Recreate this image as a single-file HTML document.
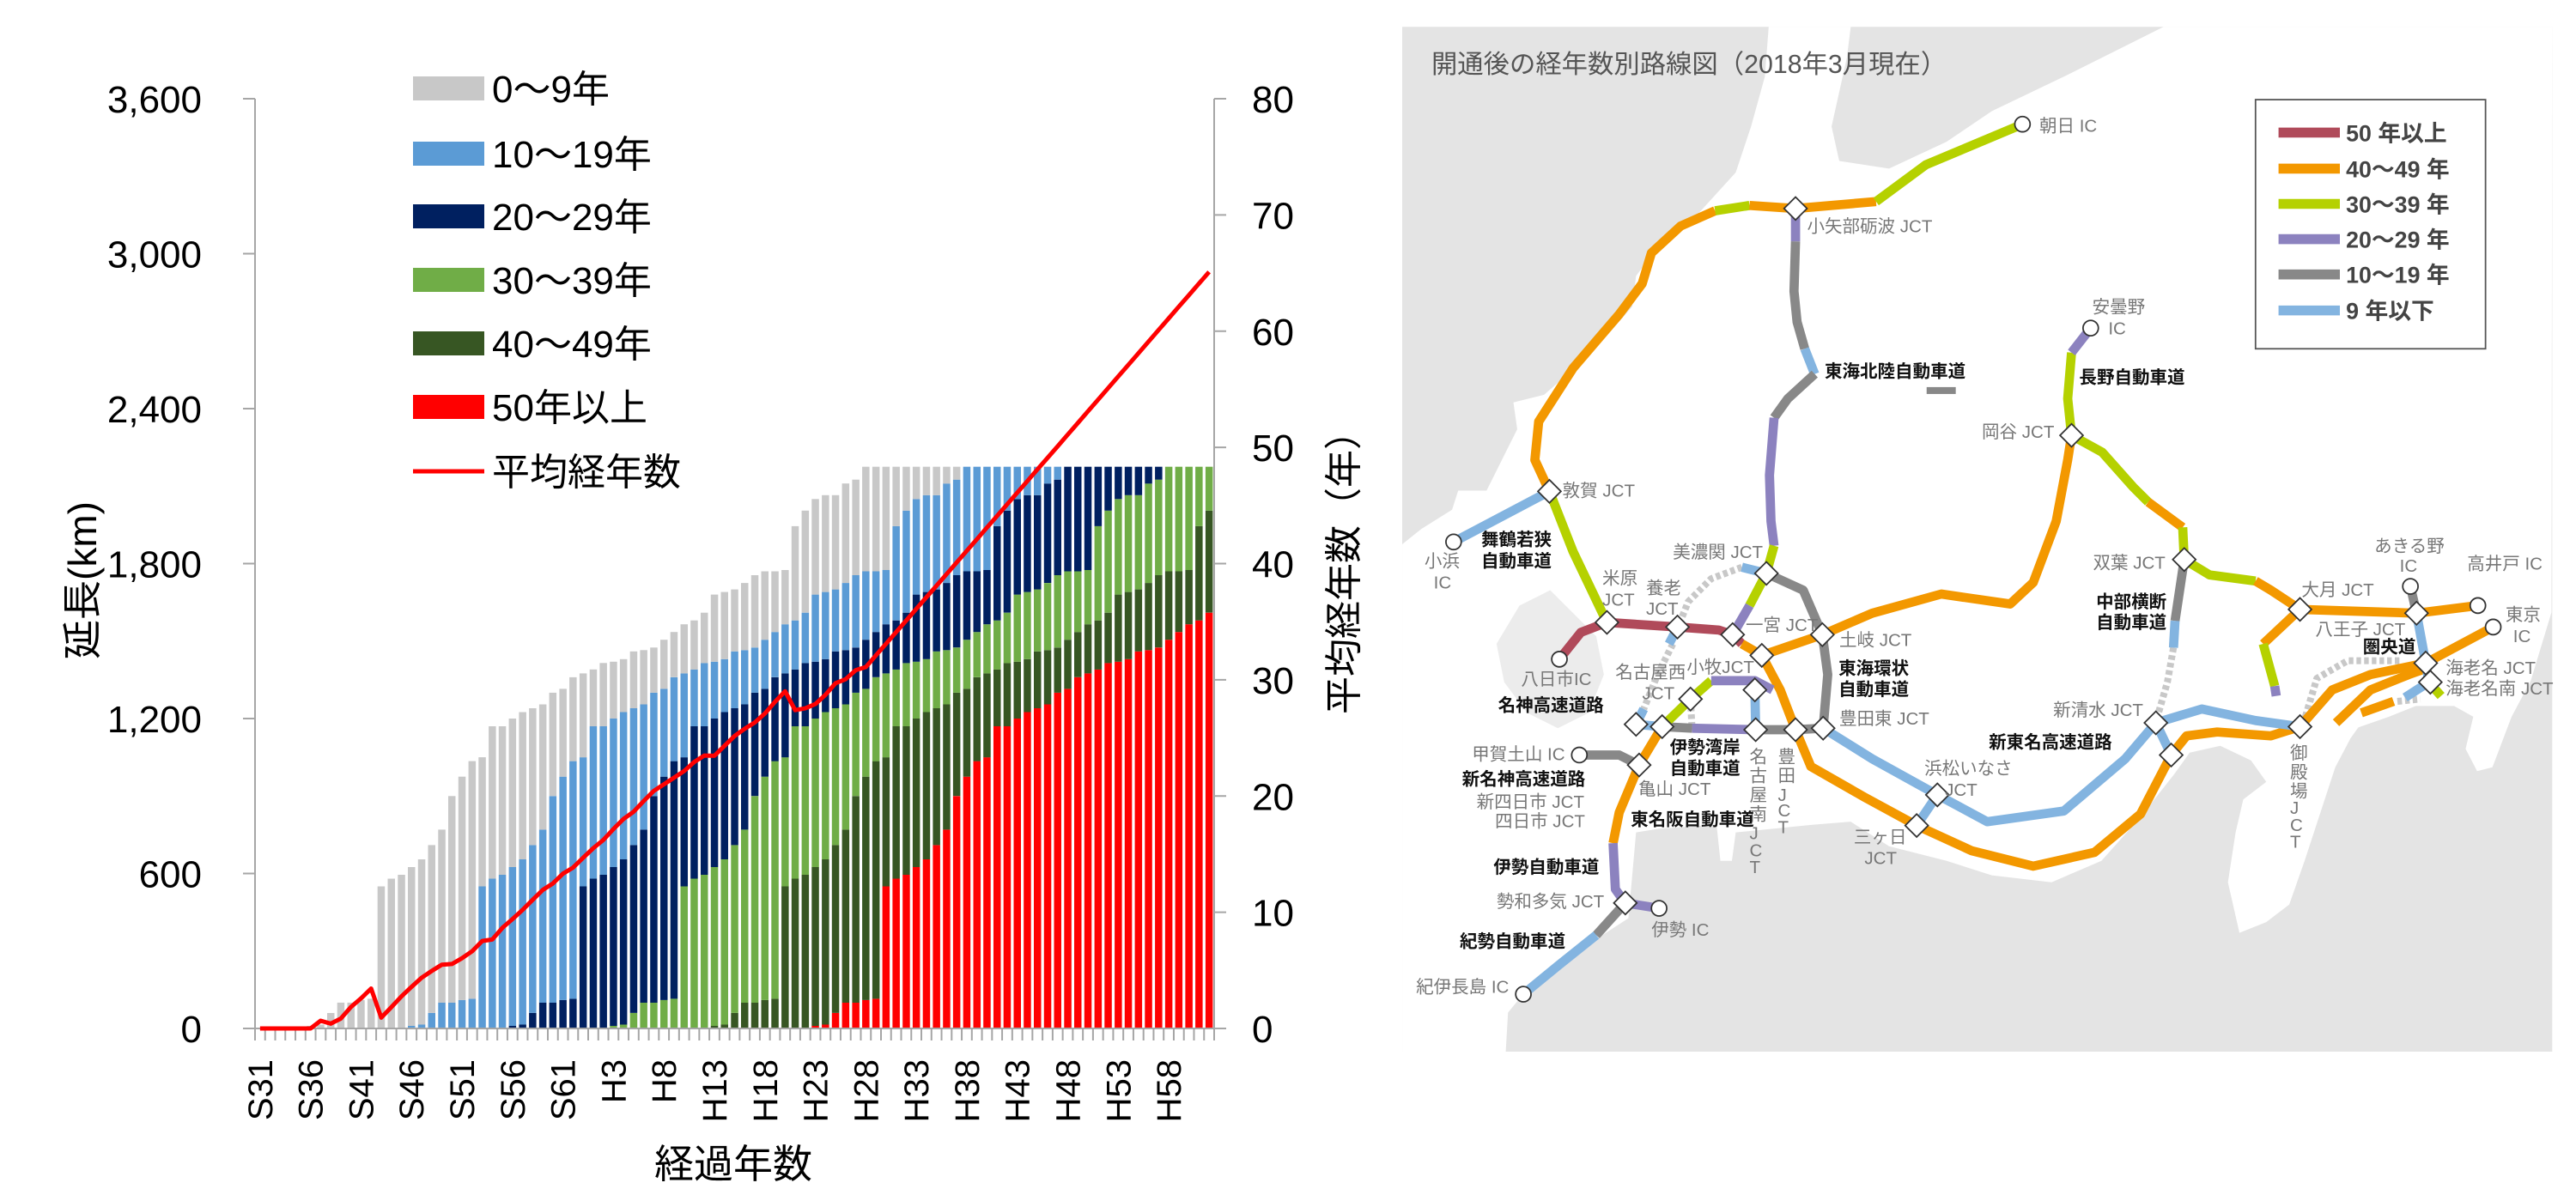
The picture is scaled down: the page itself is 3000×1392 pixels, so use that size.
<!DOCTYPE html>
<html><head><meta charset="utf-8">
<style>
html,body{margin:0;padding:0;background:#fff;}
body{width:3000px;height:1392px;position:relative;overflow:hidden;font-family:"Liberation Sans","Noto Sans CJK JP",sans-serif;}
#chart{position:absolute;left:0;top:0;}
#map{position:absolute;left:1600px;top:0;}
</style></head><body>
<svg id="chart" width="1600" height="1392" viewBox="0 0 1600 1392" font-family="Liberation Sans, Noto Sans CJK JP, sans-serif"></svg>

<svg id="map" width="1400" height="1392" viewBox="0 0 1568 1559" preserveAspectRatio="none" font-family="Liberation Sans, Noto Sans CJK JP, sans-serif">
<rect x="37" y="35" width="1500" height="1337" fill="#e4e4e4"/>
<polygon fill="#fff" points="515,35 622,35 617,75 597,165 607,210 672,220 747,185 806,145 900,100 980,60 1030,35 1537,35 1536,799 1509,888 1484,935 1459,1001 1439,1006 1424,977 1434,935 1409,921 1359,921 1324,935 1284,949 1274,963 1254,1001 1234,1062 1214,1123 1194,1180 1164,1203 1129,1217 1114,1151 1124,1086 1134,1043 1164,1020 1144,992 1104,973 1064,982 1044,1010 999,1067 949,1123 884,1151 806,1142 747,1123 672,1104 622,1072 572,1076 522,1081 472,1086 467,1123 452,1123 447,1076 372,1081 342,1086 337,1142 332,1198 287,1227 242,1260 202,1288 175,1321 172,1372 37,1372 37,710 62,690 102,665 110,640 147,640 167,600 187,560 182,525 222,515 262,480 302,440 337,400 342,360 372,320 422,280 472,225 492,165 510,100"/>
<polygon fill="#ececec" points="190,790 230,770 260,800 290,830 300,880 280,930 240,950 200,930 170,890 160,840"/>
<text x="75" y="95" font-size="34" fill="#555">開通後の経年数別路線図（2018年3月現在）</text>
<g fill="none" stroke-width="12" stroke-linejoin="round" stroke-linecap="butt">
<!-- dotted -->
<g stroke="#c8c8c8" stroke-dasharray="6,4" stroke-width="9">
<polyline points="480,740 440,755 410,785 398,815"/>
<polyline points="390,840 370,880 352,925"/>
<polyline points="413,912 415,950"/>
<polyline points="1043,845 1035,890 1022,935"/>
<polyline points="1215,935 1230,885 1270,862 1340,862"/>
<polyline points="1335,915 1365,912"/>
</g>
<polyline stroke="#83b4e0" points="104,707 229,641"/>
<polyline stroke="#b5d100" points="229,641 260,720 304,812"/>
<polyline stroke="#f39800" points="229,641 210,600 215,550 260,480 320,410 350,370 362,330 400,295 445,275"/>
<polyline stroke="#b5d100" points="445,275 490,268"/>
<polyline stroke="#f39800" points="490,268 550,272 655,263"/>
<polyline stroke="#b5d100" points="655,263 720,215 846,162"/>
<polyline stroke="#8c82bf" points="550,272 550,315"/>
<polyline stroke="#888" points="550,315 548,380 552,420 562,455"/>
<polyline stroke="#83b4e0" points="562,455 575,488"/>
<polyline stroke="#888" points="575,488 540,520 522,545"/>
<polyline stroke="#8c82bf" points="522,545 516,620 518,680 522,712"/>
<polyline stroke="#b5d100" points="522,712 512,748 490,790"/>
<polyline stroke="#8c82bf" points="490,790 468,828"/>
<polyline stroke="#83b4e0" points="480,740 512,748"/>
<polyline stroke="#b04a5a" points="242,860 270,825 304,812 396,818 450,822 468,828 480,840"/>
<polyline stroke="#83b4e0" points="398,815 385,840"/>
<polyline stroke="#f39800" points="480,840 506,855 530,900 550,952 570,1000 640,1040 708,1077 780,1110 860,1130 940,1112 1000,1062 1040,985 1060,960 1100,955 1170,960 1208,948 1250,900 1300,880 1372,865 1460,818"/>
<polyline stroke="#f39800" points="1255,943 1300,900 1350,880 1378,870"/>
<polyline stroke="#f39800" points="1288,930 1330,915"/>
<polyline stroke="#f39800" points="506,855 585,828 650,800 740,775 830,788 860,760 890,680 905,600 910,568"/>
<polyline stroke="#b5d100" points="910,568 905,520 910,460"/>
<polyline stroke="#8c82bf" points="910,460 935,428"/>
<polyline stroke="#b5d100" points="910,568 950,590 990,635 1010,655"/>
<polyline stroke="#f39800" points="1010,655 1055,688"/>
<polyline stroke="#b5d100" points="1055,688 1057,730 1090,750 1150,758"/>
<polyline stroke="#f39800" points="1150,758 1170,770 1208,795 1360,800 1440,790"/>
<polyline stroke="#f39800" points="1208,795 1160,840"/>
<polyline stroke="#b5d100" points="1160,840 1175,895"/>
<polyline stroke="#8c82bf" points="1175,895 1177,908"/>
<polyline stroke="#888" points="1057,730 1045,810"/>
<polyline stroke="#83b4e0" points="1045,810 1043,845"/>
<polyline stroke="#83b4e0" points="586,950 650,990 735,1037 800,1072 900,1058 980,990 1020,943 1080,925 1150,940 1208,948"/>
<polyline stroke="#83b4e0" points="735,1037 708,1077"/>
<polyline stroke="#83b4e0" points="1020,943 1040,985"/>
<polyline stroke="#888" points="512,748 560,770 585,828 592,880 586,950"/>
<polyline stroke="#888" points="586,950 550,952 498,952"/>
<polyline stroke="#8c82bf" points="498,952 415,950"/>
<polyline stroke="#888" points="415,950 376,948"/>
<polyline stroke="#83b4e0" points="376,948 342,945 352,925"/>
<polyline stroke="#83b4e0" points="498,952 497,900"/>
<polyline stroke="#b5d100" points="376,948 413,912 440,888"/>
<polyline stroke="#8c82bf" points="440,888 497,888 520,900"/>
<polyline stroke="#f39800" points="376,948 346,998 320,1060 312,1100"/>
<polyline stroke="#888" points="346,998 320,985 268,985"/>
<polyline stroke="#8c82bf" points="312,1100 315,1160 328,1178 372,1185"/>
<polyline stroke="#888" points="328,1178 290,1220"/>
<polyline stroke="#83b4e0" points="290,1220 240,1260 195,1297"/>
<polyline stroke="#83b4e0" points="1360,800 1372,865 1376,890 1345,910"/>
<polyline stroke="#888" points="1352,765 1360,800"/>
<polyline stroke="#b5d100" points="1376,890 1392,908"/>
</g>
<g fill="#fff" stroke="#333" stroke-width="2">
<circle cx="104" cy="707" r="10"/><circle cx="846" cy="162" r="10"/><circle cx="242" cy="860" r="10"/>
<circle cx="935" cy="428" r="10"/><circle cx="268" cy="985" r="10"/><circle cx="372" cy="1185" r="10"/>
<circle cx="195" cy="1297" r="10"/><circle cx="1352" cy="765" r="10"/><circle cx="1440" cy="790" r="10"/><circle cx="1460" cy="818" r="10"/>
</g>
<g fill="#fff" stroke="#333" stroke-width="2" id="dia"></g>
<g font-size="23" fill="#777">
<text x="868" y="172">朝日 IC</text>
<text x="565" y="303">小矢部砺波 JCT</text>
<text x="246" y="648">敦賀 JCT</text>
<text x="66" y="740">小浜</text><text x="78" y="768">IC</text>
<text x="390" y="728">美濃関 JCT</text>
<text x="298" y="762">米原</text><text x="298" y="790">JCT</text>
<text x="355" y="775">養老</text><text x="355" y="802">JCT</text>
<text x="485" y="823">一宮 JCT</text>
<text x="607" y="843">土岐 JCT</text>
<text x="192" y="894">八日市IC</text>
<text x="315" y="885">名古屋西</text><text x="350" y="912">JCT</text>
<text x="408" y="878">小牧JCT</text>
<text x="607" y="945">豊田東 JCT</text>
<text x="128" y="992">甲賀土山 IC</text>
<text x="345" y="1037">亀山 JCT</text>
<text x="134" y="1054">新四日市 JCT</text>
<text x="158" y="1079">四日市 JCT</text>
<text x="160" y="1184">勢和多気 JCT</text>
<text x="362" y="1221">伊勢 IC</text>
<text x="55" y="1295">紀伊長島 IC</text>
<text x="718" y="1010">浜松いなさ</text><text x="745" y="1038">JCT</text>
<text x="626" y="1100">三ヶ日</text><text x="640" y="1127">JCT</text>
<text x="886" y="934">新清水 JCT</text>
<text x="793" y="571">岡谷 JCT</text>
<text x="937" y="408">安曇野</text><text x="958" y="436">IC</text>
<text x="938" y="742">双葉 JCT</text>
<text x="1210" y="777">大月 JCT</text>
<text x="1305" y="720">あきる野</text><text x="1338" y="746">IC</text>
<text x="1426" y="743">高井戸 IC</text>
<text x="1476" y="810">東京</text><text x="1486" y="838">IC</text>
<text x="1228" y="829">八王子 JCT</text>
<text x="1398" y="879">海老名 JCT</text>
<text x="1398" y="906">海老名南 JCT</text>
<text x="490" y="995">名</text><text x="490" y="1020">古</text><text x="490" y="1045">屋</text><text x="490" y="1070">南</text><text x="490" y="1095">J</text><text x="490" y="1117">C</text><text x="490" y="1139">T</text>
<text x="527" y="995">豊</text><text x="527" y="1020">田</text><text x="527" y="1045">J</text><text x="527" y="1065">C</text><text x="527" y="1087">T</text>
<text x="1195" y="990">御</text><text x="1195" y="1015">殿</text><text x="1195" y="1040">場</text><text x="1195" y="1062">J</text><text x="1195" y="1084">C</text><text x="1195" y="1106">T</text>
</g>
<g font-size="23" fill="#111" font-weight="bold">
<text x="588" y="492">東海北陸自動車道</text>
<text x="920" y="500">長野自動車道</text>
<text x="140" y="712">舞鶴若狭</text><text x="140" y="740">自動車道</text>
<text x="162" y="928">名神高速道路</text>
<text x="606" y="880">東海環状</text><text x="606" y="907">自動車道</text>
<text x="386" y="983">伊勢湾岸</text><text x="386" y="1010">自動車道</text>
<text x="115" y="1024">新名神高速道路</text>
<text x="335" y="1077">東名阪自動車道</text>
<text x="156" y="1139">伊勢自動車道</text>
<text x="112" y="1236">紀勢自動車道</text>
<text x="802" y="976">新東名高速道路</text>
<text x="942" y="793">中部横断</text><text x="942" y="820">自動車道</text>
<text x="1290" y="852">圏央道</text>
</g>
<rect x="721" y="505" width="38" height="9" fill="#888"/>
<rect x="1150" y="130" width="300" height="325" fill="#fff" stroke="#555" stroke-width="2"/>
<g stroke-width="13">
<line x1="1180" y1="173" x2="1260" y2="173" stroke="#b04a5a"/>
<line x1="1180" y1="220" x2="1260" y2="220" stroke="#f39800"/>
<line x1="1180" y1="266" x2="1260" y2="266" stroke="#b5d100"/>
<line x1="1180" y1="312" x2="1260" y2="312" stroke="#8c82bf"/>
<line x1="1180" y1="358" x2="1260" y2="358" stroke="#888"/>
<line x1="1180" y1="405" x2="1260" y2="405" stroke="#83b4e0"/>
</g>
<g font-size="30" fill="#444" font-weight="bold">
<text x="1268" y="184">50 年以上</text>
<text x="1268" y="231">40～49 年</text>
<text x="1268" y="277">30～39 年</text>
<text x="1268" y="323">20～29 年</text>
<text x="1268" y="369">10～19 年</text>
<text x="1268" y="416">9 年以下</text>
</g>
</svg>

<script>
(function(){
var NS="http://www.w3.org/2000/svg";
// diamonds
var D=[[550,272],[229,641],[304,812],[396,818],[468,828],[512,748],[506,855],[585,828],[497,900],[413,912],[342,945],[376,948],[498,952],[550,952],[586,950],[346,998],[328,1178],[735,1037],[708,1077],[1020,943],[1040,985],[1208,948],[910,568],[1057,730],[1208,795],[1360,800],[1372,865],[1378,890]];
var dg=document.getElementById('dia');
D.forEach(function(p){var e=document.createElementNS(NS,'polygon');var x=p[0],y=p[1],r=15;e.setAttribute('points',(x)+','+(y-r)+' '+(x+r)+','+y+' '+x+','+(y+r)+' '+(x-r)+','+y);dg.appendChild(e);});

var svg=document.getElementById('chart');var h='';
var T=[0,0,0,0,0,10,15,60,100,100,110,115,550,580,595,625,655,710,770,900,975,1035,1050,1170,1170,1200,1225,1240,1255,1300,1315,1360,1375,1390,1415,1420,1430,1460,1465,1475,1505,1535,1565,1580,1610,1680,1690,1700,1725,1755,1770,1770,1775,1945,2005,2050,2065,2065,2110,2125,2175];
while(T.length<95)T.push(2175);
var a=[];for(var i=0;i<95;i++)a.push(T[i]-(i?T[i-1]:0));
var X0=297,X1=1414,Y0=1198,YT=115,N=95,step=(X1-X0)/N;
var ky=(Y0-YT)/3600,kr=(Y0-YT)/80;
var cols=['#ff0000','#375623','#70ad47','#002060','#5b9bd5','#c8c8c8'];
var bw=step*0.72;
var pts=[];
for(var t=0;t<N;t++){
  var c=[0,0,0,0,0,0],sum=0,ws=0;
  for(var s=0;s<=t;s++){var age=t-s;var k=age>=50?0:age>=40?1:age>=30?2:age>=20?3:age>=10?4:5;c[k]+=a[s];sum+=a[s];ws+=a[s]*age;}
  var cx=X0+(t+0.5)*step,y=Y0;
  for(var k=0;k<6;k++){if(c[k]>0){var hh=c[k]*ky;h+='<rect x="'+(cx-bw/2).toFixed(1)+'" y="'+(y-hh).toFixed(1)+'" width="'+bw.toFixed(1)+'" height="'+hh.toFixed(1)+'" fill="'+cols[k]+'"/>';y-=hh;}}
  var avg=sum>0?ws/sum:0;pts.push(cx.toFixed(1)+','+(Y0-avg*kr).toFixed(1));
}
// axes
h+='<g stroke="#a6a6a6" stroke-width="2" fill="none">';
h+='<line x1="'+X0+'" y1="'+YT+'" x2="'+X0+'" y2="'+Y0+'"/>';
h+='<line x1="'+X1+'" y1="'+YT+'" x2="'+X1+'" y2="'+Y0+'"/>';
h+='<line x1="'+X0+'" y1="'+Y0+'" x2="'+X1+'" y2="'+Y0+'"/>';
for(var v=0;v<=3600;v+=600){var yy=Y0-v*ky;h+='<line x1="'+(X0-14)+'" y1="'+yy+'" x2="'+X0+'" y2="'+yy+'"/>';}
for(var v=0;v<=80;v+=10){var yy=Y0-v*kr;h+='<line x1="'+X1+'" y1="'+yy+'" x2="'+(X1+14)+'" y2="'+yy+'"/>';}
for(var i=0;i<=N;i++){var xx=X0+i*step;h+='<line x1="'+xx+'" y1="'+Y0+'" x2="'+xx+'" y2="'+(Y0+14)+'"/>';}
h+='</g>';
h+='<polyline points="'+pts.join(' ')+'" fill="none" stroke="#ff0000" stroke-width="5" stroke-linejoin="round"/>';
// tick labels
var L=['0','600','1,200','1,800','2,400','3,000','3,600'];
for(var j=0;j<7;j++){var yy=Y0-j*600*ky+16;h+='<text x="235" y="'+yy+'" font-size="44" text-anchor="end" fill="#000">'+L[j]+'</text>';}
for(var j=0;j<=8;j++){var yy=Y0-j*10*kr+16;h+='<text x="1458" y="'+yy+'" font-size="44" fill="#000">'+(j*10)+'</text>';}
for(var i=0;i<N;i+=5){var lab=i<33?'S'+(31+i):'H'+(i-32);var cx=X0+(i+0.5)*step+14;h+='<text transform="translate('+cx.toFixed(1)+',1234) rotate(-90)" font-size="40" text-anchor="end" fill="#000">'+lab+'</text>';}
h+='<text x="854" y="1372" font-size="46" text-anchor="middle" fill="#000">経過年数</text>';
h+='<text transform="translate(112,676) rotate(-90)" font-size="46" text-anchor="middle" fill="#000">延長(km)</text>';
h+='<text transform="translate(1580,656) rotate(-90)" font-size="44" text-anchor="middle" fill="#000">平均経年数（年）</text>';
// legend
var LG=[['#c8c8c8','0～9年'],['#5b9bd5','10～19年'],['#002060','20～29年'],['#70ad47','30～39年'],['#375623','40～49年'],['#ff0000','50年以上']];
var ly=[103,179,252,326,400,474,549];
for(var j=0;j<6;j++){h+='<rect x="481" y="'+(ly[j]-14)+'" width="83" height="28" fill="'+LG[j][0]+'"/><text x="573" y="'+(ly[j]+16)+'" font-size="44" fill="#000">'+LG[j][1]+'</text>';}
h+='<line x1="481" y1="549" x2="564" y2="549" stroke="#ff0000" stroke-width="5"/><text x="573" y="565" font-size="44" fill="#000">平均経年数</text>';
svg.innerHTML=h;
})();
</script>
</body></html>
